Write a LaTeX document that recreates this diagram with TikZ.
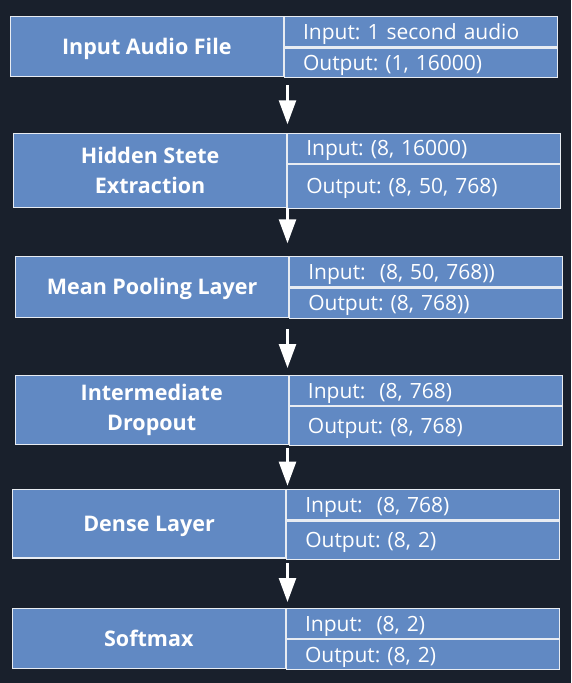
\documentclass[tikz,border=0pt]{standalone}
\usepackage{fontspec}
\setmainfont{Open Sans}
\usetikzlibrary{arrows.meta}
\frenchspacing

\definecolor{bgdark}{RGB}{25,32,44}
\definecolor{layerblue}{RGB}{97,137,195}
\definecolor{edgewhite}{RGB}{232,236,242}

\begin{document}
\begin{tikzpicture}[x=1pt, y=-1pt,
        cell/.style={draw=edgewhite, line width=1.2pt, fill=layerblue, text=white,
            inner sep=0pt, anchor=north west, minimum width=273pt},
        stage/.style={cell, font=\bfseries\fontsize{21.5}{29.5}\selectfont, align=center},
        oneline/.style={text height=15.4pt, text depth=0pt},
        io/.style={cell, font=\fontsize{21}{24}\selectfont, inner xsep=18.5pt,
            text width=236pt, align=left, text height=14.8pt, text depth=0pt},
        flow/.style={-{Triangle[length=24pt, width=17pt]}, draw=white, line width=2.5pt}]
        \fill[bgdark] (0,0) rectangle (571,683);
        \useasboundingbox (0,0) rectangle (571,683);

        % layer blocks
        \node[stage, oneline, minimum height=60.3pt] (s1) at (9.7,15.7) {Input Audio File};
        \node[io, minimum height=30.6pt] (i1) at (s1.north east) {Input: 1 second audio};
        \node[io, minimum height=29.7pt] (o1) at (i1.south west) {Output: (1, 16000)};

        \node[stage, minimum height=73.7pt] (s2) at (13,133) {Hidden Stete\\Extraction};
        \node[io, minimum height=29.7pt] (i2) at (s2.north east) {Input: (8, 16000)};
        \node[io, minimum height=44pt] (o2) at (i2.south west) {Output: (8, 50, 768)};

        \node[stage, oneline, minimum height=61pt] (s3) at (15,255.7) {Mean Pooling Layer};
        \node[io, minimum height=30.6pt] (i3) at (s3.north east) {Input:\ \ (8, 50, 768))};
        \node[io, minimum height=30.4pt] (o3) at (i3.south west) {Output: (8, 768))};

        \node[stage, minimum height=69pt] (s4) at (14.6,375) {Intermediate\\Dropout};
        \node[io, minimum height=30pt] (i4) at (s4.north east) {Input:\ \ (8, 768)};
        \node[io, minimum height=39pt] (o4) at (i4.south west) {Output: (8, 768)};

        \node[stage, oneline, minimum height=68.3pt] (s5) at (12,489) {Dense Layer};
        \node[io, minimum height=30.3pt] (i5) at (s5.north east) {Input:\ \ (8, 768)};
        \node[io, minimum height=38pt] (o5) at (i5.south west) {Output: (8, 2)};

        \node[stage, oneline, minimum height=60pt] (s6) at (11.7,608) {Softmax};
        \node[io, minimum height=30pt] (i6) at (s6.north east) {Input:\ \ (8, 2)};
        \node[io, minimum height=30pt] (o6) at (i6.south west) {Output: (8, 2)};

        % arrows between layers
        \coordinate (axis) at (287.5,0);
        \draw[flow, shorten <=8pt, shorten >=8.7pt] (s1.south -| axis) -- (s2.north -| axis);
        \draw[flow, shorten <=0pt, shorten >=12.4pt] (s2.south -| axis) -- (s3.north -| axis);
        \draw[flow, shorten <=11.3pt, shorten >=7pt] (s3.south -| axis) -- (s4.north -| axis);
        \draw[flow, shorten <=3pt, shorten >=3.3pt] (s4.south -| axis) -- (s5.north -| axis);
        \draw[flow, shorten <=4.7pt, shorten >=6pt] (s5.south -| axis) -- (s6.north -| axis);
\end{tikzpicture}
\end{document}
